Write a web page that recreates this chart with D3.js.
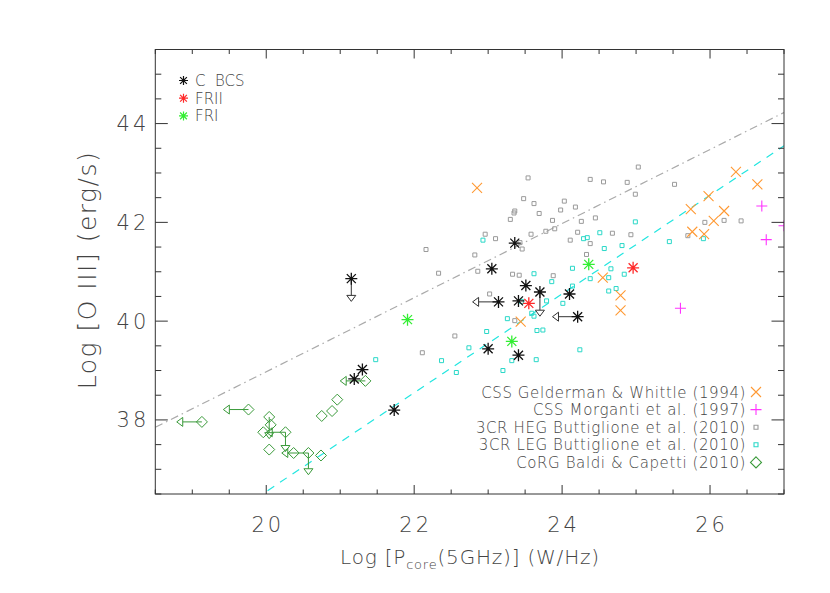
<!DOCTYPE html>
<html>
<head>
<meta charset="utf-8">
<script src="https://d3js.org/d3.v7.min.js"></script>
<style>
  body { margin: 0; background: #fff; }
  text { font-family: "DejaVu Sans", sans-serif; font-weight: 200; fill: #444; }
</style>
</head>
<body>
<div id="chart"></div>
<script>
// values: x = Log P_core(5GHz), y = Log [O III]
// lx / ly are the ends of upper-limit arrows (left / down)

var cbcs = [
  {x: 21.15, y: 40.86, ly: 40.40},
  {x: 21.30, y: 39.02}, {x: 21.19, y: 38.83}, {x: 21.73, y: 38.20},
  {x: 23.36, y: 41.58}, {x: 23.05, y: 41.06}, {x: 23.51, y: 40.72},
  {x: 23.70, y: 40.59, ly: 40.10},
  {x: 23.14, y: 40.39, lx: 22.79},
  {x: 23.41, y: 40.41}, {x: 24.10, y: 40.55},
  {x: 24.21, y: 40.09, lx: 23.87},
  {x: 23.00, y: 39.44}, {x: 23.41, y: 39.31}
];
var frii = [{x: 23.55, y: 40.36}, {x: 24.96, y: 41.08}];
var fri = [{x: 21.91, y: 40.03}, {x: 23.32, y: 39.59}, {x: 24.36, y: 41.15}];

var cssGelderman = [
  [22.85, 42.70], [23.44, 39.99], [24.55, 40.88], [24.79, 40.52], [24.79, 40.22],
  [25.74, 42.27], [25.76, 41.81], [25.92, 41.76], [25.98, 42.53], [26.05, 42.03],
  [26.19, 42.23], [26.35, 43.02], [26.64, 42.77]
];
var cssMorganti = [[25.60, 40.26], [26.70, 42.33], [26.76, 41.65], [27.00, 41.93]];

var hegButtiglione = [
  [23.54, 42.90], [23.48, 42.48], [23.62, 42.38], [24.03, 42.43], [23.36, 42.23],
  [23.35, 42.19], [23.69, 42.18], [23.98, 42.25], [23.30, 42.06], [23.87, 42.04],
  [23.90, 41.87], [23.78, 41.82], [23.58, 41.76], [22.96, 41.76], [23.10, 41.67],
  [23.43, 41.59], [23.46, 41.46], [22.16, 41.45], [22.82, 41.34], [22.86, 41.01],
  [22.33, 40.97], [23.33, 40.95], [23.42, 40.93], [23.88, 40.92], [24.11, 41.64],
  [23.02, 40.55], [22.11, 39.36], [22.55, 39.70], [23.36, 40.01],
  [25.03, 43.12], [24.38, 42.87], [24.56, 42.82], [24.88, 42.81], [25.52, 42.77],
  [24.99, 42.57], [24.26, 42.02], [24.45, 42.09], [24.68, 41.78], [24.93, 41.75],
  [24.38, 41.57], [24.33, 41.35], [25.93, 42.00], [26.19, 42.04], [26.42, 42.03],
  [25.70, 41.73], [24.18, 42.31], [24.21, 41.80]
];
var legButtiglione = [
  [21.48, 39.22], [22.93, 41.64], [23.62, 40.96], [24.14, 41.07], [24.38, 40.86],
  [23.86, 40.80], [24.14, 40.71], [24.63, 40.61], [24.01, 40.36], [23.79, 40.41],
  [23.45, 40.40], [23.26, 40.05], [23.59, 40.16], [23.62, 40.10], [23.66, 39.81],
  [23.74, 39.82], [22.98, 39.79], [22.74, 39.46], [22.37, 39.20], [22.57, 38.96],
  [23.20, 39.00], [23.65, 39.22], [23.32, 39.20], [24.24, 39.42], [24.99, 42.01],
  [24.29, 41.67], [24.34, 41.69], [24.51, 41.79], [24.57, 41.47], [24.81, 41.53],
  [25.45, 41.61], [25.91, 41.67], [24.66, 41.06], [24.84, 40.95], [24.73, 40.66],
  [24.63, 40.88]
];
var corgBaldi = [
  {x: 19.13, y: 37.96, lx: 18.79},
  {x: 19.76, y: 38.21, lx: 19.42},
  {x: 20.04, y: 38.06, ly: 37.62},
  {x: 20.06, y: 37.90}, {x: 19.96, y: 37.75},
  {x: 20.26, y: 37.75, lx: 20.00, ly: 37.36},
  {x: 20.04, y: 37.40}, {x: 20.37, y: 37.33},
  {x: 20.57, y: 37.33, lx: 20.21, ly: 36.89},
  {x: 20.74, y: 37.28}, {x: 20.75, y: 38.08}, {x: 20.89, y: 38.18},
  {x: 20.96, y: 38.41},
  {x: 21.34, y: 38.79, lx: 21.00}
];

// reference lines: y = slope * x + intercept
var grayLine = {slope: 0.75, intercept: 23.975};
var cyanLine = {slope: 1.0, intercept: 16.55};

var xTicks = [20, 22, 24, 26];
var yTicks = [38, 40, 42, 44];

var margin = {top: 49.5, left: 155.3},
    width = 628.7,
    height = 444.5;

var svg = d3.select("#chart").append("svg")
  .attr("width", 830)
  .attr("height", 593);

var xScale = d3.scaleLinear().domain([18.5, 27]).range([0, width]);
var yScale = d3.scaleLinear().domain([36.5, 45.5]).range([height, 0]);

var chartGroup = svg.append("g")
  .attr("transform", `translate(${margin.left},${margin.top})`);

svg.append("defs").append("clipPath").attr("id", "plotclip")
  .append("rect").attr("width", width).attr("height", height);

var plot = chartGroup.append("g").attr("clip-path", "url(#plotclip)");

// marker shapes
function asteriskPath(r) {
  var d = r * 0.75;
  return `M${-r},0H${r}M0,${-r}V${r}M${-d},${-d}L${d},${d}M${-d},${d}L${d},${-d}`;
}
function crossPath(r) { return `M${-r},${-r}L${r},${r}M${-r},${r}L${r},${-r}`; }
function plusPath(r) { return `M${-r},0H${r}M0,${-r}V${r}`; }
function squarePath(r) { return `M${-r},${-r}H${r}V${r}H${-r}Z`; }
function diamondPath(r) { return `M0,${-r}L${r},0L0,${r}L${-r},0Z`; }

// lines
function drawLine(line, color, dash) {
  var x0 = 18.5, x1 = 27;
  plot.append("line")
    .attr("x1", xScale(x0)).attr("y1", yScale(line.slope * x0 + line.intercept))
    .attr("x2", xScale(x1)).attr("y2", yScale(line.slope * x1 + line.intercept))
    .attr("stroke", color).attr("stroke-width", 1.2)
    .attr("stroke-dasharray", dash);
}
drawLine(grayLine, "#aaa", "8,4,1.5,4");
drawLine(cyanLine, "#22e6e0", "8,7");

// upper-limit arrows
function drawLimits(data, color) {
  data.forEach(function(d) {
    var px = xScale(d.x), py = yScale(d.y);
    if (d.lx !== undefined) {
      var ex = xScale(d.lx);
      plot.append("line").attr("x1", px).attr("y1", py).attr("x2", ex + 6).attr("y2", py)
        .attr("stroke", color).attr("stroke-width", 1);
      plot.append("path")
        .attr("d", `M${ex},${py}L${ex + 6},${py - 4.5}L${ex + 6},${py + 4.5}Z`)
        .attr("fill", "none").attr("stroke", color).attr("stroke-width", 1);
    }
    if (d.ly !== undefined) {
      var ey = yScale(d.ly);
      plot.append("line").attr("x1", px).attr("y1", py).attr("x2", px).attr("y2", ey - 6)
        .attr("stroke", color).attr("stroke-width", 1);
      plot.append("path")
        .attr("d", `M${px},${ey}L${px - 4.5},${ey - 6}L${px + 4.5},${ey - 6}Z`)
        .attr("fill", "none").attr("stroke", color).attr("stroke-width", 1);
    }
  });
}

function drawMarks(data, path, color, sw) {
  plot.append("g").selectAll("path")
    .data(data)
    .enter().append("path")
    .attr("d", path)
    .attr("transform", function(d) {
      var x = Array.isArray(d) ? d[0] : d.x, y = Array.isArray(d) ? d[1] : d.y;
      return `translate(${xScale(x)},${yScale(y)})`;
    })
    .attr("fill", "none")
    .attr("stroke", color)
    .attr("stroke-width", sw);
}

drawMarks(hegButtiglione, squarePath(2), "#9a9a9a", 1);
drawMarks(legButtiglione, squarePath(2), "#2ad8c8", 1);
drawLimits(corgBaldi, "#3a9a3a");
drawMarks(corgBaldi, diamondPath(5.5), "#3a9a3a", 1);
drawMarks(cssGelderman, crossPath(5), "#ff9933", 1.1);
drawMarks(cssMorganti, plusPath(5.5), "#ff33ff", 1.1);
drawLimits(cbcs, "#333");
drawMarks(cbcs, asteriskPath(6), "#111", 1.3);
drawMarks(frii, asteriskPath(6), "#ff2a2a", 1.3);
drawMarks(fri, asteriskPath(6), "#33ee33", 1.3);

// frame and ticks (all four sides, inward)
chartGroup.append("rect")
  .attr("width", width).attr("height", height)
  .attr("fill", "none").attr("stroke", "#333").attr("stroke-width", 1);

var ticks = chartGroup.append("g").attr("stroke", "#333").attr("stroke-width", 1);
d3.range(18.5, 27.01, 0.5).forEach(function(v) {
  var len = xTicks.indexOf(v) >= 0 ? 9 : 4.5, px = xScale(v);
  ticks.append("line").attr("x1", px).attr("x2", px).attr("y1", height).attr("y2", height - len);
  ticks.append("line").attr("x1", px).attr("x2", px).attr("y1", 0).attr("y2", len);
});
d3.range(36.5, 45.51, 0.5).forEach(function(v) {
  var len = yTicks.indexOf(v) >= 0 ? 12.5 : 6, py = yScale(v);
  ticks.append("line").attr("y1", py).attr("y2", py).attr("x1", 0).attr("x2", len);
  ticks.append("line").attr("y1", py).attr("y2", py).attr("x1", width).attr("x2", width - len);
});

// tick labels
chartGroup.selectAll(".xlab").data(xTicks).enter().append("text")
  .attr("x", function(d) { return xScale(d) + 1.5; })
  .attr("y", height + 38)
  .attr("text-anchor", "middle")
  .style("font-size", "21px").style("letter-spacing", "3px")
  .text(function(d) { return d; });
chartGroup.selectAll(".ylab").data(yTicks).enter().append("text")
  .attr("x", -6)
  .attr("y", function(d) { return yScale(d) + 7.5; })
  .attr("text-anchor", "end")
  .style("font-size", "21px").style("letter-spacing", "3px")
  .text(function(d) { return d; });

// axis titles
var xTitle = svg.append("text")
  .attr("x", 470).attr("y", 564)
  .attr("text-anchor", "middle")
  .style("font-size", "20px").style("letter-spacing", "0.8px");
xTitle.append("tspan").text("Log [P");
xTitle.append("tspan").attr("dy", 5).style("font-size", "13px").text("core");
xTitle.append("tspan").attr("dy", -5).text("(5GHz)] (W/Hz)");

svg.append("text")
  .attr("transform", "translate(96,270) rotate(-90)")
  .attr("text-anchor", "middle")
  .style("font-size", "25px").style("letter-spacing", "1.5px")
  .text("Log [O III] (erg/s)");

// legend, top left
var legTop = [
  {label: "C  BCS", color: "#111"},
  {label: "FRII", color: "#ff2a2a"},
  {label: "FRI", color: "#33ee33"}
];
legTop.forEach(function(d, i) {
  var y = 80.5 + i * 17.7;
  svg.append("path").attr("d", asteriskPath(4.5))
    .attr("transform", `translate(183.5,${y})`)
    .attr("fill", "none").attr("stroke", d.color).attr("stroke-width", 1.2);
  svg.append("text").attr("x", 195).attr("y", y + 5.5)
    .style("font-size", "15px").style("white-space", "pre")
    .text(d.label);
});

// legend, bottom right
var legBottom = [
  {label: "CSS Gelderman & Whittle (1994)", path: crossPath(5), color: "#ff9933"},
  {label: "CSS Morganti et al. (1997)", path: plusPath(5.5), color: "#ff33ff"},
  {label: "3CR HEG Buttiglione et al. (2010)", path: squarePath(2), color: "#9a9a9a"},
  {label: "3CR LEG Buttiglione et al. (2010)", path: squarePath(2), color: "#2ad8c8"},
  {label: "CoRG Baldi & Capetti (2010)", path: diamondPath(5.5), color: "#3a9a3a"}
];
legBottom.forEach(function(d, i) {
  var y = 392 + i * 17.6;
  svg.append("path").attr("d", d.path)
    .attr("transform", `translate(756,${y})`)
    .attr("fill", "none").attr("stroke", d.color).attr("stroke-width", 1.1);
  svg.append("text").attr("x", 746).attr("y", y + 5.5)
    .attr("text-anchor", "end")
    .style("font-size", "15px").style("letter-spacing", "0.6px")
    .text(d.label);
});
</script>
</body>
</html>
